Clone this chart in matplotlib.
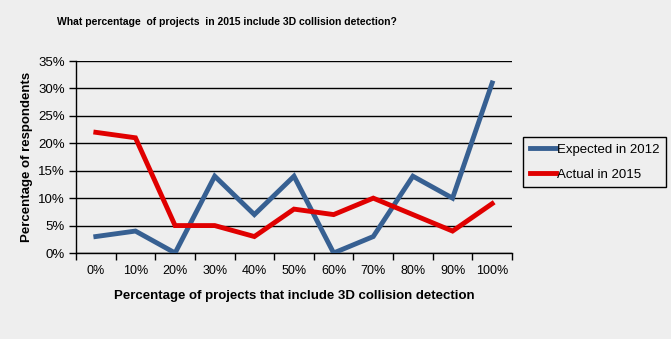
import matplotlib
matplotlib.use("Agg")
import matplotlib.pyplot as plt
import numpy as np

plt.rcParams['font.family'] = ['Liberation Sans', 'DejaVu Sans']

categories = ["0%", "10%", "20%", "30%", "40%", "50%", "60%", "70%", "80%", "90%", "100%"]
expected_2012 = [3, 4, 0, 14, 7, 14, 0, 3, 14, 10, 31]
actual_2015 = [22, 21, 5, 5, 3, 8, 7, 10, 7, 4, 9]
y_ticks = [0, 5, 10, 15, 20, 25, 30, 35]

bg = "#eeeeee"
fig = plt.figure(figsize=(6.71, 3.39), dpi=100, facecolor=bg)
ax = fig.add_axes([76 / 671, 1 - 253 / 339, (512 - 76) / 671, (253 - 61) / 339])
ax.set_facecolor(bg)

x = np.arange(len(categories))
ax.plot(x, expected_2012, color="#376092", lw=3.5, label="Expected in 2012",
        solid_joinstyle="miter", zorder=3)
ax.plot(x, actual_2015, color="#e00000", lw=3.5, label="Actual in 2015",
        solid_joinstyle="miter", zorder=3)

ax.set_xlim(-0.5, len(categories) - 0.5)
ax.set_ylim(0, 35)
ax.set_yticks(y_ticks)
ax.set_yticklabels([f"{v}%" for v in y_ticks])
ax.yaxis.grid(True, color="black", lw=1)
ax.set_axisbelow(True)

ax.set_xticks(x)
ax.set_xticklabels(categories)
ax.set_xticks(np.arange(-0.5, len(categories)), minor=True)
ax.tick_params(axis="x", which="major", length=0, pad=9, labelsize=9)
ax.tick_params(axis="x", which="minor", length=5, width=1, direction="out")
ax.tick_params(axis="y", length=5, width=1, direction="out", labelsize=9.5, pad=3)

for side in ("top", "right"):
    ax.spines[side].set_visible(False)
for side in ("left", "bottom"):
    ax.spines[side].set_linewidth(1)

ax.set_xlabel("Percentage of projects that include 3D collision detection",
              fontsize=9.5, fontweight="bold", labelpad=9)
ax.set_ylabel("Percentage of respondents", fontsize=9.5, fontweight="bold", labelpad=4)

fig.text(227 / 671, 1 - 22 / 339, "What percentage  of projects  in 2015 include 3D collision detection?",
         ha="center", va="center", fontsize=7.5, fontweight="bold")

leg = ax.legend(loc="center left", bbox_to_anchor=(523 / 671, 1 - 162 / 339),
                bbox_transform=fig.transFigure, frameon=True, fancybox=False,
                edgecolor="black", facecolor=bg, framealpha=1, fontsize=9.5,
                handlelength=2.0, handletextpad=0.1, borderpad=0.5, labelspacing=0.95,
                borderaxespad=0)
leg.get_frame().set_linewidth(1)

fig.savefig("out.png", dpi=100, facecolor=bg)
